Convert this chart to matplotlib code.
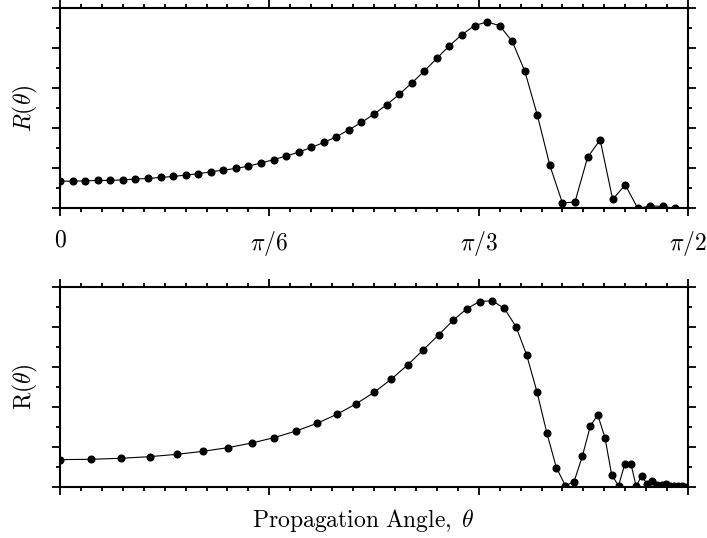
import numpy as np
import matplotlib
matplotlib.use('Agg')
import matplotlib.pyplot as plt
from matplotlib.ticker import MultipleLocator, FixedLocator

plt.rcParams['mathtext.fontset'] = 'cm'
plt.rcParams['font.family'] = ['DejaVu Serif']

# top panel: angle (degrees) and R
theta_top = [0.0, 1.8, 3.6, 5.4, 7.2, 9.0, 10.8, 12.6, 14.4, 16.2,
             18.0, 19.8, 21.6, 23.4, 25.2, 27.0, 28.8, 30.6, 32.4, 34.2,
             36.0, 37.8, 39.6, 41.4, 43.2, 45.0, 46.8, 48.6, 50.4, 52.2,
             54.0, 55.8, 57.6, 59.4, 61.2, 63.0, 64.8, 66.6, 68.4, 70.2,
             72.0, 73.8, 75.6, 77.4, 79.2, 81.0, 82.8, 84.6, 86.4, 88.2]
r_top = [0.683, 0.683, 0.69, 0.70, 0.70, 0.716, 0.733, 0.75, 0.775, 0.80,
         0.833, 0.866, 0.916, 0.958, 1.0, 1.058, 1.135, 1.22, 1.308, 1.408,
         1.524, 1.649, 1.79, 1.966, 2.149, 2.358, 2.59, 2.849, 3.133, 3.433,
         3.749, 4.066, 4.341, 4.57, 4.658, 4.566, 4.174, 3.433, 2.333, 1.074,
         0.133, 0.166, 1.274, 1.716, 0.225, 0.591, 0.0, 0.066, 0.05, 0.0]

# bottom panel: angle (degrees) and R
theta_bot = [0.0, 4.49, 8.79, 12.9, 16.81, 20.54, 24.08, 27.52, 30.71, 33.86,
             36.87, 39.70, 42.42, 45.04, 47.48, 49.83, 52.07, 54.27, 56.32, 58.28,
             60.12, 61.95, 63.67, 65.35, 66.88, 68.36, 69.75, 71.13, 72.42, 73.66,
             74.85, 76.0, 77.06, 78.10, 79.06, 80.04, 80.93, 81.83, 82.55, 83.36,
             84.12, 84.84, 85.56, 86.23, 86.85, 87.42, 87.99, 88.57, 89.10, 89.61]
r_bot = [0.683, 0.692, 0.717, 0.758, 0.817, 0.892, 0.983, 1.1, 1.233, 1.4,
         1.592, 1.817, 2.075, 2.367, 2.692, 3.05, 3.425, 3.8, 4.158, 4.45,
         4.63, 4.65, 4.458, 4.0, 3.292, 2.367, 1.358, 0.483, 0.033, 0.133,
         0.767, 1.525, 1.8, 1.225, 0.3, 0.033, 0.567, 0.567, 0.025, 0.275,
         0.075, 0.158, 0.05, 0.05, 0.068, 0.033, 0.03, 0.02, 0.02, 0.01]

tick_pos = [0, np.pi / 6, np.pi / 3, np.pi / 2]
tick_labels = [r'$0$', r'$\pi/6$', r'$\pi/3$', r'$\pi/2$']

fig = plt.figure(figsize=(7.07, 5.38), dpi=100)
ax1 = fig.add_axes([0.0849, 0.6125, 0.8883, 0.3721])
ax2 = fig.add_axes([0.0849, 0.0948, 0.8883, 0.3723])

def style(ax):
    ax.set_xlim(0, np.pi / 2)
    ax.set_ylim(0, 5)
    ax.xaxis.set_major_locator(FixedLocator(tick_pos))
    ax.xaxis.set_minor_locator(MultipleLocator(np.pi / 60))
    ax.yaxis.set_major_locator(MultipleLocator(1))
    ax.yaxis.set_minor_locator(MultipleLocator(0.5))
    ax.tick_params(which='both', direction='out', top=True, right=True,
                   width=1.3, labelleft=False)
    ax.tick_params(which='major', length=5.5)
    ax.tick_params(which='minor', length=3)
    for s in ax.spines.values():
        s.set_linewidth(1.5)

style(ax1)
ax1.plot(np.deg2rad(theta_top), r_top, 'k-', lw=0.8, marker='o', ms=4.8)
ax1.set_xticklabels(tick_labels, fontsize=17)
ax1.tick_params(axis='x', which='major', pad=9)
ax1.set_ylabel(r'$R(\theta)$', fontsize=17, labelpad=9)

style(ax2)
ax2.plot(np.deg2rad(theta_bot), r_bot, 'k-', lw=0.8, marker='o', ms=4.8)
ax2.set_xticklabels([])
ax2.set_ylabel(r'$\mathrm{R}(\theta)$', fontsize=17, labelpad=9)
ax2.set_xlabel(r'$\mathrm{Propagation\ Angle,}\;\theta$', fontsize=17)
ax2.xaxis.set_label_coords(0.482, -0.1)

fig.savefig('out.png', dpi=100)
